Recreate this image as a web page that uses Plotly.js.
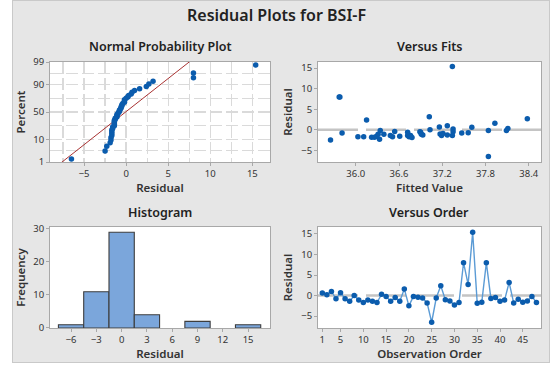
<!DOCTYPE html>
<html><head><meta charset="utf-8">
<script src="https://cdn.plot.ly/plotly-3.0.1.min.js"></script>
<style>
html,body{margin:0;padding:0;background:#ffffff;overflow:hidden;}
#wrap{position:absolute;left:12px;top:0;width:536px;height:361px;border:1px solid #c9c9c9;background:#e6e6e6;}
#chart{width:536px;height:361px;}
</style></head><body>
<div id="wrap"><div id="chart"></div></div>
<script>
// ---- data ----
const mainTitle = "Residual Plots for BSI-F";
const panelTitles = ["Normal Probability Plot", "Versus Fits", "Histogram", "Versus Order"];
const observation = [1,2,3,4,5,6,7,8,9,10,11,12,13,14,15,16,17,18,19,20,21,22,23,24,
                     25,26,27,28,29,30,31,32,33,34,35,36,37,38,39,40,41,42,43,44,45,46,47,48];
const residuals = [0.6,0.2,1.0,-0.8,0.7,-0.8,-1.4,0.0,-1.1,-1.7,-1.1,-1.4,-1.7,0.3,-0.2,-1.4,
                   -0.5,-1.4,1.6,-2.5,-0.2,-0.4,-0.6,-1.8,-6.5,-0.6,2.4,-1.0,-1.3,-2.3,-1.7,8.0,
                   2.7,15.4,-1.9,-1.6,8.0,-0.7,-0.5,-1.4,-1.1,3.2,-1.8,-0.9,-1.6,-1.3,-0.2,-1.7];
const fittedValues = [37.61,37.35,37.27,35.81,37.16,37.47,36.72,37.03,36.39,36.51,36.31,36.48,
                      36.74,38.11,36.34,36.76,36.89,37.19,37.93,35.65,37.84,36.54,36.90,36.22,
                      37.84,36.72,36.15,37.17,36.93,36.33,36.03,35.77,38.38,37.34,36.78,36.29,
                      35.78,37.56,37.35,37.34,36.91,37.02,36.26,37.21,36.61,37.27,38.09,36.11];
const percentTicks = [1, 10, 50, 90, 99];
const percentGrid = [1, 10, 50, 90, 99];
const fitTicks = [36.0, 36.6, 37.2, 37.8, 38.4];
const fitTickLabels = ["36.0", "36.6", "37.2", "37.8", "38.4"];
const histTicks = [-6, -3, 0, 3, 6, 9, 12, 15];
const histBinStart = -7.5, histBinEnd = 16.5, histBinSize = 3;
const orderTicks = [1, 5, 10, 15, 20, 25, 30, 35, 40, 45];
const referenceLevel = 0;

// ---- helpers ----
function invNorm(p){
  const a=[-3.969683028665376e+01,2.209460984245205e+02,-2.759285104469687e+02,1.383577518672690e+02,-3.066479806614716e+01,2.506628277459239e+00];
  const b=[-5.447609879822406e+01,1.615858368580409e+02,-1.556989798598866e+02,6.680131188771972e+01,-1.328068155288572e+01];
  const c=[-7.784894002430293e-03,-3.223964580411365e-01,-2.400758277161838e+00,-2.549732539343734e+00,4.374664141464968e+00,2.938163982698783e+00];
  const d=[7.784695709041462e-03,3.224671290700398e-01,2.445134137142996e+00,3.754408661907416e+00];
  const pl=0.02425, ph=1-pl; let q,r;
  if(p<pl){q=Math.sqrt(-2*Math.log(p));return (((((c[0]*q+c[1])*q+c[2])*q+c[3])*q+c[4])*q+c[5])/((((d[0]*q+d[1])*q+d[2])*q+d[3])*q+1);}
  if(p<=ph){q=p-0.5;r=q*q;return (((((a[0]*r+a[1])*r+a[2])*r+a[3])*r+a[4])*r+a[5])*q/(((((b[0]*r+b[1])*r+b[2])*r+b[3])*r+b[4])*r+1);}
  q=Math.sqrt(-2*Math.log(1-p));return -(((((c[0]*q+c[1])*q+c[2])*q+c[3])*q+c[4])*q+c[5])/((((d[0]*q+d[1])*q+d[2])*q+d[3])*q+1);
}
const n = residuals.length;
const sorted = residuals.slice().sort((a,b)=>a-b);
const zScores = sorted.map((v,i)=>invNorm((i+1-0.3)/(n+0.4)));
const mu = residuals.reduce((s,v)=>s+v,0)/n;
const sd = Math.sqrt(residuals.reduce((s,v)=>s+(v-mu)*(v-mu),0)/(n-1));
const lineZ = [invNorm(0.005), invNorm(0.995)];
const lineX = lineZ.map(z=>mu+sd*z);
const zTickVals = percentTicks.map(p=>invNorm(p/100));
const zMinor = [];
for(let i=0;i<zTickVals.length-1;i++) zMinor.push((zTickVals[i]+zTickVals[i+1])/2);

// ---- style ----
const FONT = "Noto Sans, Open Sans, sans-serif";
const BLUE = "#0b5cad";
const gridCol = "#dadada";
function baseAxis(extra){
  return Object.assign({
    showline:true, mirror:true, linecolor:"#a8a8a8", linewidth:1,
    ticks:"outside", ticklen:3, tickcolor:"#a8a8a8",
    tickfont:{family:FONT, size:9.5, color:"#333"},
    zeroline:false, showgrid:false, fixedrange:true, automargin:false
  }, extra);
}
function axTitle(t, standoff){ return {text:t, font:{family:FONT, size:11.5, color:"#333", weight:600}, standoff:standoff}; }

const traces = [
  // Normal probability plot
  {type:"scatter", mode:"lines", x:lineX, y:lineZ, xaxis:"x", yaxis:"y",
   line:{color:"#a83232", width:1}, hoverinfo:"skip", showlegend:false},
  {type:"scatter", mode:"markers", x:sorted, y:zScores, xaxis:"x", yaxis:"y",
   marker:{color:BLUE, size:5.5, symbol:"circle"}, showlegend:false},
  // Versus fits
  {type:"scatter", mode:"markers", x:fittedValues, y:residuals, xaxis:"x2", yaxis:"y2",
   marker:{color:BLUE, size:5.5}, showlegend:false},
  // Histogram
  {type:"histogram", x:residuals, xaxis:"x3", yaxis:"y3",
   xbins:{start:histBinStart, end:histBinEnd, size:histBinSize}, autobinx:false,
   marker:{color:"#7ba6db", line:{color:"#3d3d3d", width:1.1}}, showlegend:false},
  // Versus order
  {type:"scatter", mode:"lines+markers", x:observation, y:residuals, xaxis:"x4", yaxis:"y4",
   line:{color:"#5b9bd5", width:1.4}, marker:{color:BLUE, size:5.5}, showlegend:false}
];

const colL = [0.0690, 0.4795], colR = [0.5690, 0.9851];
const rowT = [0.5540, 0.8310], rowB = [0.0942, 0.3740];

const layout = {
  width:536, height:361, margin:{l:0,r:0,t:0,b:0},
  paper_bgcolor:"#e6e6e6", plot_bgcolor:"#ffffff",
  font:{family:FONT, color:"#333"},
  xaxis: baseAxis({domain:colL, anchor:"y", range:[-9.05,17.1], tickvals:[-5,0,5,10,15],
     showgrid:true, gridcolor:gridCol, griddash:"12px,4px", gridwidth:1.3,
     minor:{tickvals:[-7.5,-2.5,2.5,7.5,12.5], showgrid:true, gridcolor:gridCol, griddash:"12px,4px", gridwidth:1.3, ticks:""},
     title:axTitle("Residual", 4)}),
  yaxis: baseAxis({domain:rowT, anchor:"x", range:[zTickVals[0], zTickVals[zTickVals.length-1]],
     tickvals:zTickVals, ticktext:percentTicks.map(String),
     showgrid:true, gridcolor:gridCol, griddash:"12px,4px", gridwidth:1.3,
     minor:{tickvals:zMinor, showgrid:true, gridcolor:gridCol, griddash:"12px,4px", gridwidth:1.3, ticks:""},
     title:axTitle("Percent", 6)}),
  xaxis2: baseAxis({domain:colR, anchor:"y2", range:[35.476,38.57], tickvals:fitTicks, ticktext:fitTickLabels,
     title:axTitle("Fitted Value", 4)}),
  yaxis2: baseAxis({domain:rowT, anchor:"x2", range:[-7.85,16.5], tickvals:[-5,0,5,10,15],
     title:axTitle("Residual", 6)}),
  xaxis3: baseAxis({domain:colL, anchor:"y3", range:[-8.5,17.6], tickvals:histTicks,
     title:axTitle("Residual", 4)}),
  yaxis3: baseAxis({domain:rowB, anchor:"x3", range:[0,30.6], tickvals:[0,10,20,30],
     title:axTitle("Frequency", 6)}),
  xaxis4: baseAxis({domain:colR, anchor:"y4", range:[0.05,49.0], tickvals:orderTicks,
     title:axTitle("Observation Order", 4)}),
  yaxis4: baseAxis({domain:rowB, anchor:"x4", range:[-7.9,16.7], tickvals:[-5,0,5,10,15],
     title:axTitle("Residual", 6)}),
  bargap:0,
  shapes:[
    {type:"line", xref:"x2 domain", x0:0, x1:1, yref:"y2", y0:referenceLevel, y1:referenceLevel,
     line:{color:"#c4c4c4", width:2.5, dash:"40px,8px"}, layer:"below"},
    {type:"line", xref:"x4 domain", x0:0, x1:1, yref:"y4", y0:referenceLevel, y1:referenceLevel,
     line:{color:"#c4c4c4", width:2.5, dash:"40px,8px"}, layer:"below"}
  ],
  annotations:[
    {text:mainTitle, xref:"paper", yref:"paper", x:0.4925, y:0.9612, xanchor:"center", yanchor:"middle",
     showarrow:false, font:{family:FONT, size:16, color:"#222", weight:600}},
    {text:panelTitles[0], xref:"paper", yref:"paper", x:0.2743, y:0.8753, xanchor:"center", yanchor:"middle",
     showarrow:false, font:{family:FONT, size:12.5, color:"#222", weight:600}},
    {text:panelTitles[1], xref:"paper", yref:"paper", x:0.777, y:0.8753, xanchor:"center", yanchor:"middle",
     showarrow:false, font:{family:FONT, size:12.5, color:"#222", weight:600}},
    {text:panelTitles[2], xref:"paper", yref:"paper", x:0.2743, y:0.4155, xanchor:"center", yanchor:"middle",
     showarrow:false, font:{family:FONT, size:12.5, color:"#222", weight:600}},
    {text:panelTitles[3], xref:"paper", yref:"paper", x:0.777, y:0.4155, xanchor:"center", yanchor:"middle",
     showarrow:false, font:{family:FONT, size:12.5, color:"#222", weight:600}}
  ]
};

Plotly.newPlot("chart", traces, layout, {staticPlot:true, displayModeBar:false});
</script>
</body></html>
